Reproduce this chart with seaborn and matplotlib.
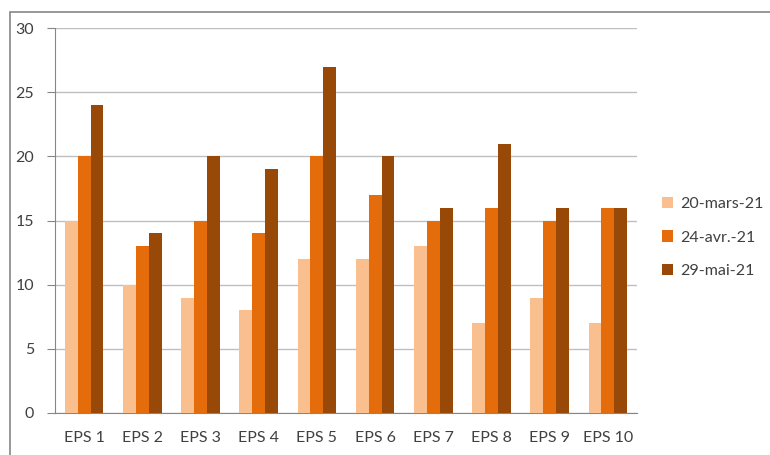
import pandas as pd
import matplotlib.pyplot as plt
import seaborn as sns
from matplotlib.patches import Rectangle

# data
categories = ["EPS 1", "EPS 2", "EPS 3", "EPS 4", "EPS 5",
              "EPS 6", "EPS 7", "EPS 8", "EPS 9", "EPS 10"]
series_names = ["20-mars-21", "24-avr.-21", "29-mai-21"]
mars = [15, 10, 9, 8, 12, 12, 13, 7, 9, 7]
avril = [20, 13, 15, 14, 20, 17, 15, 16, 15, 16]
mai = [24, 14, 20, 19, 27, 20, 16, 21, 16, 16]
colours = ["#FABF8F", "#E46C0A", "#984807"]

# long table for seaborn
df = pd.DataFrame({
    "eps": categories * 3,
    "date": [series_names[0]] * 10 + [series_names[1]] * 10 + [series_names[2]] * 10,
    "value": mars + avril + mai,
})

sns.set_style("white")
plt.rcParams['font.family'] = ['Lato', 'DejaVu Sans']

fig = plt.figure(figsize=(7.7, 4.55), dpi=100)
ax = fig.add_axes([55/770, 42/455, 582/770, 385/455])

sns.barplot(data=df, x="eps", y="value", hue="date", palette=colours,
            width=0.665, saturation=1, linewidth=0, ax=ax, zorder=3)

ax.set_ylim(0, 30)
ax.set_xlim(-0.5, 9.5)
ax.set_yticks(range(0, 31, 5))
ax.yaxis.grid(True, color="#BFBFBF", linewidth=1, zorder=0)
ax.set_xlabel("")
ax.set_ylabel("")
for side in ["top", "right"]:
    ax.spines[side].set_visible(False)
ax.spines["left"].set_color("#868686")
ax.spines["bottom"].set_color("#868686")

# x ticks between categories like excel
ax.set_xticks(range(10))
ax.set_xticklabels(categories)
ax.tick_params(axis="x", length=0, labelsize=11.5, colors="#404040", pad=13)
ax.set_xticks([i - 0.5 for i in range(11)], minor=True)
ax.tick_params(axis="x", which="minor", length=6, color="#868686", direction="out")
ax.tick_params(axis="y", length=6, color="#868686", direction="out", labelsize=11.5,
               labelcolor="#404040", pad=9)
ax.tick_params(axis="y", left=True)

leg = ax.legend(loc="upper left", bbox_to_anchor=((662 - 55) / 582, (413 - 197) / 385),
                frameon=False, fontsize=11.5, handlelength=0.7, handleheight=0.7,
                handletextpad=0.45, labelspacing=1.2, labelcolor="#404040",
                borderaxespad=0, borderpad=0)
leg.set_zorder(10)

# chart border
fig.patches.append(Rectangle((10/770, -0.02), 1.0, 1 - 12/455 + 0.02,
                             transform=fig.transFigure, fill=False,
                             edgecolor="#868686", linewidth=1.2))

plt.savefig("out.png", dpi=100)
plt.close()
